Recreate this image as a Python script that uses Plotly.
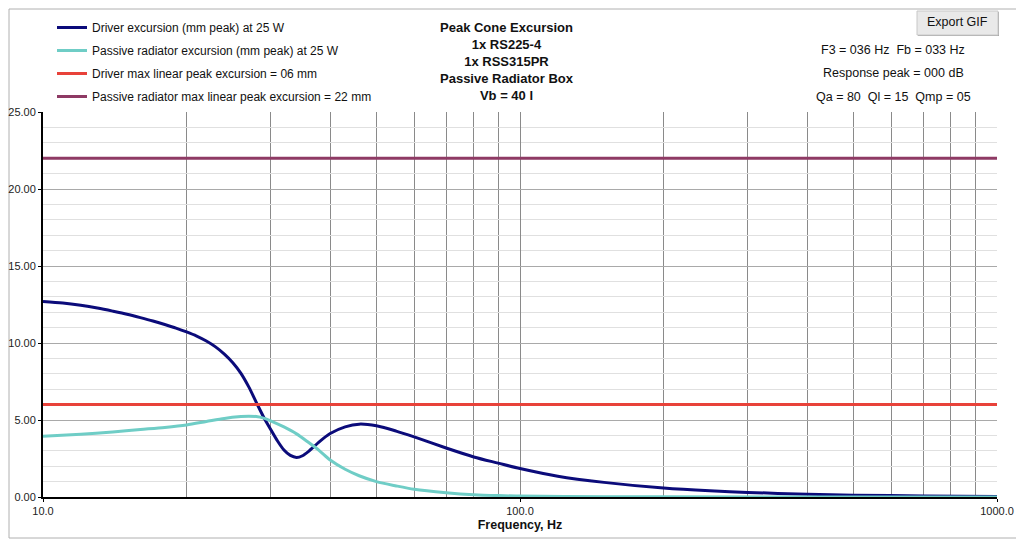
import plotly.graph_objects as go

# Driver excursion, mm peak at 25 W
drv_freq = [10, 11, 12, 13, 14, 15, 16, 17, 18, 19, 20, 21, 22, 23, 24, 25, 26, 27, 28, 29, 30,
            31, 32, 33, 34, 35, 36, 38, 40, 43, 46, 50, 55, 60, 70, 80, 90, 100, 120, 150, 200,
            250, 300, 400, 500, 700, 1000]
drv_exc = [12.7, 12.6, 12.45, 12.27, 12.07, 11.87, 11.65, 11.43, 11.2, 10.97, 10.72, 10.45, 10.13,
           9.75, 9.28, 8.72, 8.03, 7.15, 6.15, 5.2, 4.4, 3.65, 3.05, 2.7, 2.57, 2.68, 2.95, 3.6,
           4.12, 4.55, 4.73, 4.62, 4.28, 3.9, 3.18, 2.6, 2.2, 1.85, 1.35, 0.95, 0.58, 0.4, 0.3,
           0.18, 0.12, 0.07, 0.04]

# Passive radiator excursion, mm peak at 25 W
pr_freq = [10, 12, 14, 16, 18, 20, 22, 24, 26, 27, 28, 29, 30, 32, 34, 36, 38, 40, 43, 46,
           50, 55, 60, 70, 80, 90, 100, 150, 200, 1000]
pr_exc = [3.95, 4.08, 4.22, 4.38, 4.52, 4.68, 4.9, 5.1, 5.22, 5.25, 5.22, 5.12, 4.95, 4.55,
          4.1, 3.55, 3.0, 2.4, 1.8, 1.38, 1.0, 0.72, 0.5, 0.28, 0.15, 0.09, 0.06, 0.02, 0.01, 0.0]

limit_freq = [10, 1000]
drv_xmax = 6
pr_xmax = 22

names = [
    "Driver excursion (mm peak) at 25 W",
    "Passive radiator excursion (mm peak) at 25 W",
    "Driver max linear peak excursion = 06 mm",
    "Passive radiator max linear peak excursion = 22 mm",
]
colors = ["#0b0b7a", "#6fcdc6", "#e8423a", "#8e3a64"]

title_lines = ["Peak Cone Excursion", "1x RS225-4", "1x RSS315PR", "Passive Radiator Box", "Vb = 40 l"]
info_lines = ["F3 = 036 Hz  Fb = 033 Hz", "Response peak = 000 dB", "Qa = 80  Ql = 15  Qmp = 05"]

FONT = "Liberation Sans, Arial, sans-serif"
# the page puts the figure 8px in from the window edge
OFF = 8
W, H = 1024 - OFF, 544 - OFF


def px(x):
    return (x - OFF) / W


def py(y):
    return 1 - (y - OFF) / H


fig = go.Figure()
fig.add_trace(go.Scatter(x=drv_freq, y=drv_exc, name=names[0], mode="lines", legendgroup="a",
                         line=dict(color=colors[0], width=3, shape="spline", smoothing=0.8)))
fig.add_trace(go.Scatter(x=pr_freq, y=pr_exc, name=names[1], mode="lines", legendgroup="b",
                         line=dict(color=colors[1], width=3, shape="spline", smoothing=0.8)))
fig.add_trace(go.Scatter(x=limit_freq, y=[drv_xmax] * 2, name=names[2], mode="lines", legendgroup="c",
                         line=dict(color=colors[2], width=3)))
fig.add_trace(go.Scatter(x=limit_freq, y=[pr_xmax] * 2, name=names[3], mode="lines", legendgroup="d",
                         line=dict(color=colors[3], width=3)))

# title block
fig.add_annotation(text="<br>".join("<b>%s</b>" % t for t in title_lines), xref="paper", yref="paper",
                   x=px(507), y=py(18), showarrow=False, xanchor="center", yanchor="top",
                   font=dict(family=FONT, size=13, color="#111"))
for t, yy in zip(info_lines, [50, 73, 97]):
    fig.add_annotation(text=t, xref="paper", yref="paper", x=px(893), y=py(yy), showarrow=False,
                       xanchor="center", yanchor="middle",
                       font=dict(family=FONT, size=12.5, color="#111"))

# export button and outer frame
fig.add_shape(type="rect", xref="paper", yref="paper", x0=px(918), x1=px(999), y0=py(36), y1=py(12),
              fillcolor="#a9a9a9", line=dict(width=0), layer="below")
fig.add_shape(type="rect", xref="paper", yref="paper", x0=px(917), x1=px(998), y0=py(35), y1=py(11),
              fillcolor="#e9e9e9", line=dict(color="#c8c8c8", width=1), layer="below")
fig.add_annotation(text="Export GIF", xref="paper", yref="paper", x=px(957), y=py(22),
                   xanchor="center", yanchor="middle", showarrow=False,
                   font=dict(family=FONT, size=12.5, color="#111"))
fig.add_shape(type="rect", xref="paper", yref="paper", x0=px(9), x1=px(1019), y0=py(538), y1=py(9),
              line=dict(color="#b0b0b0", width=1), layer="below")

fig.update_xaxes(type="log", range=[1, 3], domain=[px(43), px(997)], automargin=False,
                 tickvals=[10, 100, 1000], ticktext=["10.0", "100.0", "1000.0"],
                 ticks="outside", ticklen=3, tickcolor="#000",
                 showline=True, linecolor="#000", linewidth=2, mirror=False,
                 showgrid=True, gridcolor="#8a8a8a", gridwidth=1,
                 minor=dict(dtick="D1", showgrid=True, gridcolor="#8a8a8a", ticks=""),
                 tickfont=dict(family=FONT, size=11, color="#222"),
                 title=dict(text="<b>Frequency, Hz</b>", font=dict(family=FONT, size=12.5, color="#111"),
                            standoff=4),
                 zeroline=False)
fig.update_yaxes(range=[0, 25], dtick=5, tickformat=".2f", domain=[py(497), py(112)], automargin=False,
                 ticks="outside", ticklen=3, tickcolor="#000",
                 showline=True, linecolor="#000", linewidth=2,
                 showgrid=True, gridcolor="#a9a9a9", gridwidth=1,
                 minor=dict(dtick=1, showgrid=True, gridcolor="#e0e0e0", ticks=""),
                 tickfont=dict(family=FONT, size=11, color="#222"), zeroline=False)

fig.update_layout(
    width=W, height=H, autosize=False,
    margin=dict(l=0, r=0, t=0, b=0),
    paper_bgcolor="white", plot_bgcolor="white",
    showlegend=True,
    legend=dict(x=px(52), y=py(13), yanchor="top", xanchor="left",
                font=dict(family=FONT, size=12, color="#111"), tracegroupgap=4,
                itemwidth=30, bgcolor="rgba(0,0,0,0)"),
)
fig.write_html("out.html")
